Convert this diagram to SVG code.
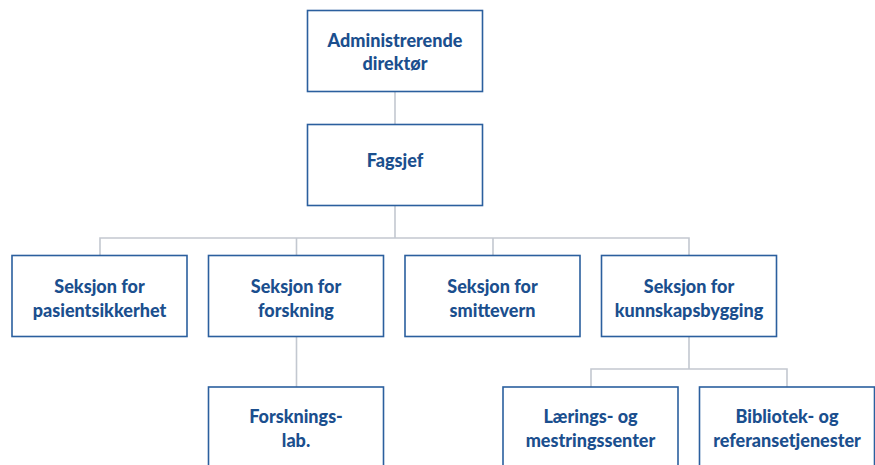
<svg xmlns="http://www.w3.org/2000/svg" width="875" height="465" viewBox="0 0 875 465">
<style>
.box{fill:#fff;stroke:#2b5f9e;stroke-width:1.6}
.t{font-family:Lato,"Open Sans",sans-serif;font-weight:900;font-size:18px;fill:#1b4f8e;text-anchor:middle}
.c{stroke:#c3c8d0;stroke-width:1.6;fill:none}
</style>
<rect width="875" height="465" fill="#fff"/>
<g id="connectors">
<path class="c" d="M395 91V124M395 205V238M100 255V238H689V255M296.5 238V255M493 238V255M296.5 337V387M689 337V369H591V387M591 369H787V387"/>
</g>
<g id="n-admin"><rect class="box" x="307.5" y="10.5" width="175" height="81"/><text class="t" x="395" y="47">Administrerende</text><text class="t" x="395" y="70">direktør</text></g>
<g id="n-fagsjef"><rect class="box" x="307.5" y="124.5" width="175" height="81"/><text class="t" x="395" y="167">Fagsjef</text></g>
<g id="n-pasient"><rect class="box" x="12" y="255.5" width="175" height="81"/><text class="t" x="99.5" y="293">Seksjon for</text><text class="t" x="99.5" y="317">pasientsikkerhet</text></g>
<g id="n-forskning"><rect class="box" x="208.5" y="255.5" width="175" height="81"/><text class="t" x="296" y="293">Seksjon for</text><text class="t" x="296" y="317">forskning</text></g>
<g id="n-smittevern"><rect class="box" x="405" y="255.5" width="175" height="81"/><text class="t" x="492.5" y="293">Seksjon for</text><text class="t" x="492.5" y="317">smittevern</text></g>
<g id="n-kunnskap"><rect class="box" x="601.5" y="255.5" width="175" height="81"/><text class="t" x="689" y="293">Seksjon for</text><text class="t" x="689" y="317">kunnskapsbygging</text></g>
<g id="n-lab"><rect class="box" x="208.5" y="387" width="175" height="81"/><text class="t" x="296" y="423">Forsknings-</text><text class="t" x="296" y="447">lab.</text></g>
<g id="n-laering"><rect class="box" x="503" y="387" width="175" height="81"/><text class="t" x="590.5" y="423">Lærings- og</text><text class="t" x="590.5" y="447">mestringssenter</text></g>
<g id="n-bibliotek"><rect class="box" x="699.5" y="387" width="175" height="81"/><text class="t" x="787" y="423">Bibliotek- og</text><text class="t" x="787" y="447">referansetjenester</text></g>
</svg>
